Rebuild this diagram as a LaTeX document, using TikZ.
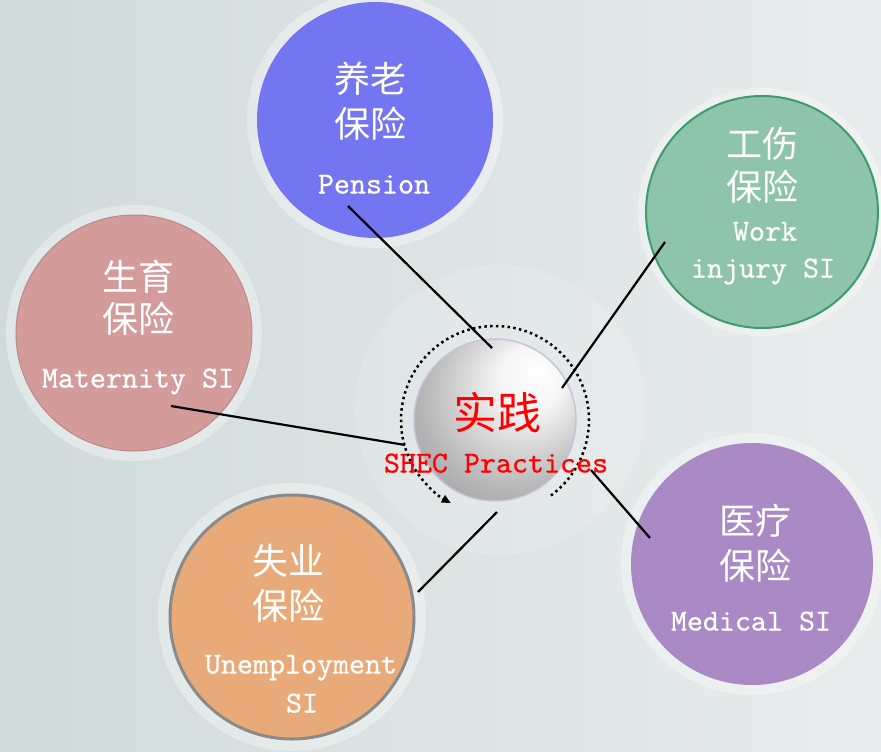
\documentclass[tikz,border=0pt]{standalone}
\usepackage{fontspec}
\newfontfamily\cjk{Noto Sans CJK SC}
\newfontfamily\monofont[FakeBold=0.6]{lmmono10-regular.otf}
\usetikzlibrary{arrows.meta,calc}
\definecolor{bgL}{HTML}{D0DBDB}
\definecolor{bgR}{HTML}{E9ECEC}
\definecolor{penC}{HTML}{7375F1}
\definecolor{workC}{HTML}{8EC4A9}
\definecolor{workB}{HTML}{3C9C6C}
\definecolor{matC}{HTML}{D49B9B}
\definecolor{unC}{HTML}{E9AA7A}
\definecolor{unB}{HTML}{8A8A8A}
\definecolor{medC}{HTML}{A98AC4}
\definecolor{rimC}{HTML}{C9C2D9}
\pgfdeclareradialshading{silverball}{\pgfpoint{14bp}{16bp}}{color(0bp)=(white); color(10bp)=(white!96!black); color(28bp)=(white!72!black); color(42bp)=(white!58!black); color(50bp)=(white!62!black)}
\tikzset{
  bubble/.style={circle, inner sep=0pt},
  halo/.style={fill=white, fill opacity=0.35},
  zh/.style={font=\cjk\fontsize{36}{40}\selectfont, text=white, inner sep=0pt, text height=0.88em, text depth=0.12em},
  en/.style={font=\monofont\fontsize{30.5}{34}\selectfont, text=white, inner sep=0pt, text height=0.7em, text depth=0.2em},
  link/.style={line width=2.2pt, black},
}
\begin{document}
\begin{tikzpicture}[x=1pt,y=-1pt]
\useasboundingbox (0,0) rectangle (881,752);
\shade[left color=bgL, right color=bgR] (0,0) rectangle (881,752);
% faint disc behind centre
\fill[white, opacity=0.15] (500,410) circle (145pt);
% halos
\fill[halo] (375,120) circle (128pt);
\fill[halo] (134,333) circle (128pt);
\fill[halo] (292,617) circle (134pt);
\fill[halo] (752,564) circle (131pt);
\fill[halo] (762,212) circle (124pt);
% bubbles
\node[bubble, minimum size=236pt, fill=penC] (pension) at (375,120) {};
\node[bubble, minimum size=232pt, fill=workC, draw=workB, line width=2pt] (work) at (762,212) {};
\node[bubble, minimum size=236pt, fill=matC, draw=matC!88!black, line width=1pt] (maternity) at (134,333) {};
\node[bubble, minimum size=244pt, fill=unC, draw=unB, line width=3pt] (unemp) at (292,617) {};
\node[bubble, minimum size=242pt, fill=medC] (medical) at (752,564) {};
% centre sphere
\node[bubble, minimum size=162pt] (sphere) at (495,420) {};
\shade[shading=silverball] (sphere.center) circle (81pt);
\draw[rimC, line width=1.5pt] (sphere.center) circle (81pt);
% dotted ring with arrow
\draw[line width=2.5pt, dash pattern=on 2.5pt off 3.3pt, -{Triangle[length=9pt,width=8pt]}]
  ($(sphere.center)+(-53.5:94pt)$) arc[start angle=-53.5, end angle=242, radius=94pt];
% texts
\node[zh] (penZh1) at (370,89) {养老};
\node[zh] (penZh2) at (370,134) {保险};
\node[en] (penEn) at (374,191) {Pension};
\node[zh] (workZh1) at (762,154) {工伤};
\node[zh] (workZh2) at (762,197) {保险};
\node[en] (workEn1) at (765,238) {Work};
\node[en] (workEn2) at (763,275) {injury SI};
\node[zh] (matZh1) at (138,287) {生育};
\node[zh] (matZh2) at (138,329) {保险};
\node[en] (matEn) at (138,385) {Maternity SI};
\node[zh] (unZh1) at (288,571) {失业};
\node[zh] (unZh2) at (288,616) {保险};
\node[en] (unEn1) at (301,671) {Unemployment};
\node[en] (unEn2) at (302,710) {SI};
\node[zh] (medZh1) at (755,531) {医疗};
\node[zh] (medZh2) at (755,576) {保险};
\node[en] (medEn) at (751,628) {Medical SI};
\node[zh, text=red, font=\cjk\fontsize{44}{48}\selectfont] (ctrZh) at (497,426) {实践};
\node[en, text=red] (ctrEn) at (496,470) {SHEC Practices};
% connectors
\coordinate (pA) at (348,206); \coordinate (pB) at (492,348);
\coordinate (wA) at (665,242); \coordinate (wB) at (562,388);
\coordinate (mA) at (171,406); \coordinate (mB) at (405,445);
\coordinate (dA) at (650,538); \coordinate (dB) at (591,470);
\coordinate (uA) at (418,592); \coordinate (uB) at (497,512);
\draw[link] (pA) -- (pB);
\draw[link] (wA) -- (wB);
\draw[link] (mA) -- (mB);
\draw[link] (dA) -- (dB);
\draw[link] (uA) -- (uB);
\end{tikzpicture}
\end{document}
